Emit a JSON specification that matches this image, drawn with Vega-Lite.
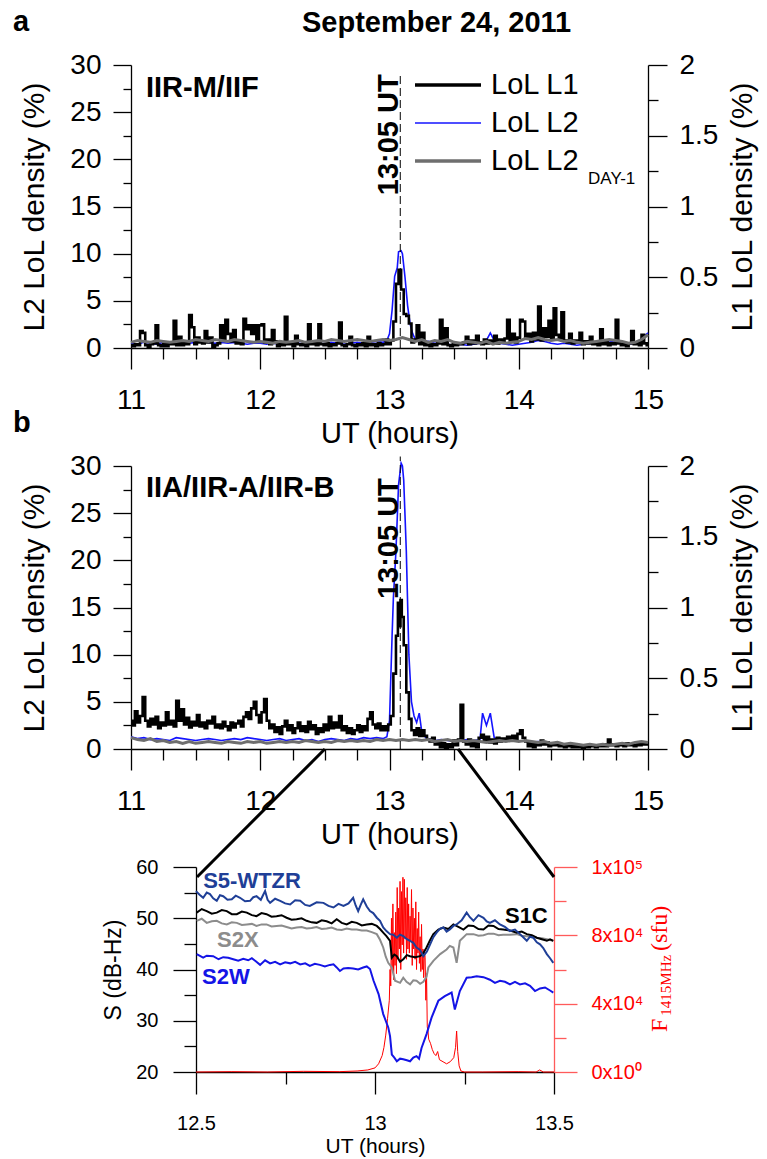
{
"$schema": "https://vega.github.io/schema/vega-lite/v6.json",
"autosize": {"type": "pad"},
"padding": {"left": 13, "top": 8, "right": 5, "bottom": 2},
"config": {
  "font": "Liberation Sans",
  "view": {"stroke": null},
  "axis": {"grid": false, "domainColor": "#000", "tickColor": "#000", "labelColor": "#000", "titleColor": "#000", "domainWidth": 1.3, "tickWidth": 1.3, "labelFont": "Liberation Sans", "titleFont": "Liberation Sans", "titleFontWeight": "normal", "labelFlush": false, "labelOverlap": false},
  "title": {"font": "Liberation Sans", "color": "#000"},
  "text": {"font": "Liberation Sans"}
},
"title": {"text": "September 24, 2011", "anchor": "start", "frame": "group", "dx": 171, "fontSize": 29, "fontWeight": "bold", "baseline": "alphabetic", "offset": -53},
"bounds": "flush",
"spacing": 118,
"resolve": {"scale": {"x": "independent", "y": "independent", "color": "independent"}},
"datasets": {
"aL1": [{"t":11,"v":0.02},{"t":11.02,"v":0.013},{"t":11.04,"v":0.027},{"t":11.06,"v":0.02},{"t":11.08,"v":0.12},{"t":11.1,"v":0.107},{"t":11.12,"v":0.02},{"t":11.14,"v":0.007},{"t":11.16,"v":0.027},{"t":11.18,"v":0.033},{"t":11.2,"v":0.16},{"t":11.22,"v":0.02},{"t":11.24,"v":0.013},{"t":11.26,"v":0.027},{"t":11.28,"v":0.013},{"t":11.3,"v":0.033},{"t":11.32,"v":0.027},{"t":11.34,"v":0.193},{"t":11.36,"v":0.02},{"t":11.38,"v":0.08},{"t":11.4,"v":0.02},{"t":11.42,"v":0.033},{"t":11.44,"v":0.027},{"t":11.46,"v":0.233},{"t":11.48,"v":0.147},{"t":11.5,"v":0.027},{"t":11.52,"v":0.073},{"t":11.54,"v":0.04},{"t":11.56,"v":0.033},{"t":11.58,"v":0.12},{"t":11.6,"v":0.04},{"t":11.62,"v":0.073},{"t":11.64,"v":0.007},{"t":11.66,"v":0.02},{"t":11.68,"v":0.033},{"t":11.7,"v":0.16},{"t":11.72,"v":0.053},{"t":11.74,"v":0.2},{"t":11.76,"v":0.1},{"t":11.78,"v":0.047},{"t":11.8,"v":0.127},{"t":11.82,"v":0.033},{"t":11.84,"v":0.047},{"t":11.86,"v":0.027},{"t":11.88,"v":0.207},{"t":11.9,"v":0.133},{"t":11.92,"v":0.16},{"t":11.94,"v":0.1},{"t":11.96,"v":0.16},{"t":11.98,"v":0.053},{"t":12,"v":0.16},{"t":12.02,"v":0.167},{"t":12.04,"v":0.04},{"t":12.06,"v":0.06},{"t":12.08,"v":0.027},{"t":12.1,"v":0.127},{"t":12.12,"v":0.047},{"t":12.14,"v":0.013},{"t":12.16,"v":0.027},{"t":12.18,"v":0.02},{"t":12.2,"v":0.22},{"t":12.22,"v":0.027},{"t":12.24,"v":0.033},{"t":12.26,"v":0.013},{"t":12.28,"v":0.087},{"t":12.3,"v":0.027},{"t":12.32,"v":0.02},{"t":12.34,"v":0.033},{"t":12.36,"v":0.013},{"t":12.38,"v":0.167},{"t":12.4,"v":0.027},{"t":12.42,"v":0.04},{"t":12.44,"v":0.02},{"t":12.46,"v":0.167},{"t":12.48,"v":0.027},{"t":12.5,"v":0.02},{"t":12.52,"v":0.033},{"t":12.54,"v":0.013},{"t":12.56,"v":0.027},{"t":12.58,"v":0.02},{"t":12.6,"v":0.033},{"t":12.62,"v":0.18},{"t":12.64,"v":0.02},{"t":12.66,"v":0.013},{"t":12.68,"v":0.027},{"t":12.7,"v":0.08},{"t":12.72,"v":0.02},{"t":12.74,"v":0.013},{"t":12.76,"v":0.027},{"t":12.78,"v":0.02},{"t":12.8,"v":0.033},{"t":12.82,"v":0.013},{"t":12.84,"v":0.08},{"t":12.86,"v":0.02},{"t":12.88,"v":0.027},{"t":12.9,"v":0.013},{"t":12.92,"v":0.033},{"t":12.94,"v":0.02},{"t":12.96,"v":0.027},{"t":12.98,"v":0.06},{"t":13,"v":0.027},{"t":13.02,"v":0.053},{"t":13.04,"v":0.187},{"t":13.06,"v":0.453},{"t":13.08,"v":0.553},{"t":13.1,"v":0.413},{"t":13.12,"v":0.24},{"t":13.14,"v":0.227},{"t":13.16,"v":0.173},{"t":13.18,"v":0.04},{"t":13.2,"v":0.06},{"t":13.22,"v":0.16},{"t":13.24,"v":0.027},{"t":13.26,"v":0.107},{"t":13.28,"v":0.02},{"t":13.3,"v":0.033},{"t":13.32,"v":0.013},{"t":13.34,"v":0.027},{"t":13.36,"v":0.02},{"t":13.38,"v":0.033},{"t":13.4,"v":0.2},{"t":13.42,"v":0.027},{"t":13.44,"v":0.14},{"t":13.46,"v":0.02},{"t":13.48,"v":0.013},{"t":13.5,"v":0.027},{"t":13.52,"v":0.02},{"t":13.54,"v":0.033},{"t":13.56,"v":0.027},{"t":13.58,"v":0.04},{"t":13.6,"v":0.08},{"t":13.62,"v":0.027},{"t":13.64,"v":0.053},{"t":13.66,"v":0.033},{"t":13.68,"v":0.087},{"t":13.7,"v":0.04},{"t":13.72,"v":0.027},{"t":13.74,"v":0.06},{"t":13.76,"v":0.033},{"t":13.78,"v":0.053},{"t":13.8,"v":0.04},{"t":13.82,"v":0.087},{"t":13.84,"v":0.033},{"t":13.86,"v":0.06},{"t":13.88,"v":0.047},{"t":13.9,"v":0.067},{"t":13.92,"v":0.2},{"t":13.94,"v":0.053},{"t":13.96,"v":0.1},{"t":13.98,"v":0.04},{"t":14,"v":0.073},{"t":14.02,"v":0.2},{"t":14.04,"v":0.187},{"t":14.06,"v":0.067},{"t":14.08,"v":0.1},{"t":14.1,"v":0.047},{"t":14.12,"v":0.107},{"t":14.14,"v":0.06},{"t":14.16,"v":0.293},{"t":14.18,"v":0.053},{"t":14.2,"v":0.14},{"t":14.22,"v":0.08},{"t":14.24,"v":0.193},{"t":14.26,"v":0.06},{"t":14.28,"v":0.28},{"t":14.3,"v":0.093},{"t":14.32,"v":0.067},{"t":14.34,"v":0.253},{"t":14.36,"v":0.053},{"t":14.38,"v":0.04},{"t":14.4,"v":0.1},{"t":14.42,"v":0.033},{"t":14.44,"v":0.053},{"t":14.46,"v":0.04},{"t":14.48,"v":0.107},{"t":14.5,"v":0.027},{"t":14.52,"v":0.047},{"t":14.54,"v":0.033},{"t":14.56,"v":0.08},{"t":14.58,"v":0.027},{"t":14.6,"v":0.033},{"t":14.62,"v":0.02},{"t":14.64,"v":0.133},{"t":14.66,"v":0.027},{"t":14.68,"v":0.04},{"t":14.7,"v":0.02},{"t":14.72,"v":0.033},{"t":14.74,"v":0.027},{"t":14.76,"v":0.2},{"t":14.78,"v":0.033},{"t":14.8,"v":0.02},{"t":14.82,"v":0.027},{"t":14.84,"v":0.013},{"t":14.86,"v":0.033},{"t":14.88,"v":0.12},{"t":14.9,"v":0.027},{"t":14.92,"v":0.04},{"t":14.94,"v":0.02},{"t":14.96,"v":0.093},{"t":14.98,"v":0.033},{"t":15,"v":0.02}],
"aL2": [{"t":11,"v":0.5},{"t":11.05,"v":0.4},{"t":11.1,"v":0.6},{"t":11.15,"v":0.5},{"t":11.2,"v":0.4},{"t":11.25,"v":0.6},{"t":11.3,"v":0.5},{"t":11.35,"v":0.5},{"t":11.4,"v":0.6},{"t":11.45,"v":0.5},{"t":11.5,"v":0.6},{"t":11.55,"v":0.7},{"t":11.6,"v":0.6},{"t":11.65,"v":0.5},{"t":11.7,"v":0.6},{"t":11.75,"v":0.5},{"t":11.8,"v":0.6},{"t":11.85,"v":0.5},{"t":11.9,"v":0.4},{"t":11.95,"v":0.5},{"t":12,"v":0.5},{"t":12.05,"v":0.4},{"t":12.1,"v":0.5},{"t":12.15,"v":0.4},{"t":12.2,"v":0.5},{"t":12.25,"v":0.6},{"t":12.3,"v":0.5},{"t":12.35,"v":0.4},{"t":12.4,"v":0.5},{"t":12.45,"v":0.4},{"t":12.5,"v":0.5},{"t":12.55,"v":0.6},{"t":12.6,"v":0.5},{"t":12.65,"v":0.4},{"t":12.7,"v":0.5},{"t":12.75,"v":0.6},{"t":12.8,"v":0.5},{"t":12.85,"v":0.6},{"t":12.9,"v":0.7},{"t":12.95,"v":0.6},{"t":12.98,"v":0.8},{"t":13,"v":1.5},{"t":13.02,"v":4},{"t":13.04,"v":7.6},{"t":13.06,"v":8.5},{"t":13.07,"v":10.2},{"t":13.09,"v":10.3},{"t":13.1,"v":10},{"t":13.12,"v":7.5},{"t":13.14,"v":4.5},{"t":13.16,"v":2.5},{"t":13.18,"v":1.5},{"t":13.2,"v":0.9},{"t":13.25,"v":0.6},{"t":13.3,"v":0.7},{"t":13.35,"v":0.5},{"t":13.4,"v":0.6},{"t":13.45,"v":0.4},{"t":13.5,"v":0.3},{"t":13.55,"v":0.4},{"t":13.6,"v":0.3},{"t":13.65,"v":0.4},{"t":13.7,"v":0.5},{"t":13.75,"v":0.8},{"t":13.78,"v":1.6},{"t":13.81,"v":0.8},{"t":13.85,"v":0.5},{"t":13.9,"v":0.4},{"t":13.95,"v":0.3},{"t":14,"v":0.4},{"t":14.05,"v":0.5},{"t":14.1,"v":0.6},{"t":14.15,"v":0.8},{"t":14.2,"v":0.7},{"t":14.25,"v":0.5},{"t":14.3,"v":0.4},{"t":14.35,"v":0.5},{"t":14.4,"v":0.4},{"t":14.45,"v":0.3},{"t":14.5,"v":0.4},{"t":14.55,"v":0.5},{"t":14.6,"v":0.4},{"t":14.65,"v":0.5},{"t":14.7,"v":0.6},{"t":14.75,"v":0.8},{"t":14.8,"v":0.6},{"t":14.85,"v":0.4},{"t":14.9,"v":0.5},{"t":14.95,"v":1},{"t":15,"v":1.6}],
"aD1": [{"t":11,"v":0.6},{"t":11.05,"v":0.8},{"t":11.1,"v":0.7},{"t":11.15,"v":0.6},{"t":11.2,"v":0.8},{"t":11.25,"v":0.7},{"t":11.3,"v":0.6},{"t":11.35,"v":0.7},{"t":11.4,"v":0.8},{"t":11.45,"v":0.7},{"t":11.5,"v":0.9},{"t":11.55,"v":0.8},{"t":11.6,"v":0.7},{"t":11.65,"v":0.9},{"t":11.7,"v":0.8},{"t":11.75,"v":0.7},{"t":11.8,"v":0.9},{"t":11.85,"v":0.8},{"t":11.9,"v":0.7},{"t":11.95,"v":0.6},{"t":12,"v":0.7},{"t":12.05,"v":0.6},{"t":12.1,"v":0.5},{"t":12.15,"v":0.7},{"t":12.2,"v":0.6},{"t":12.25,"v":0.7},{"t":12.3,"v":0.8},{"t":12.35,"v":0.6},{"t":12.4,"v":0.7},{"t":12.45,"v":0.8},{"t":12.5,"v":0.7},{"t":12.55,"v":0.9},{"t":12.6,"v":0.8},{"t":12.65,"v":0.7},{"t":12.7,"v":0.8},{"t":12.75,"v":0.9},{"t":12.8,"v":0.8},{"t":12.85,"v":0.7},{"t":12.9,"v":0.8},{"t":12.95,"v":0.9},{"t":13,"v":0.8},{"t":13.05,"v":0.9},{"t":13.1,"v":1.1},{"t":13.15,"v":0.9},{"t":13.2,"v":0.7},{"t":13.25,"v":0.9},{"t":13.3,"v":0.6},{"t":13.35,"v":0.8},{"t":13.4,"v":0.7},{"t":13.45,"v":0.9},{"t":13.5,"v":0.6},{"t":13.55,"v":0.5},{"t":13.6,"v":0.7},{"t":13.65,"v":0.6},{"t":13.7,"v":0.5},{"t":13.75,"v":0.7},{"t":13.8,"v":0.4},{"t":13.85,"v":0.6},{"t":13.9,"v":0.5},{"t":13.95,"v":0.6},{"t":14,"v":0.7},{"t":14.05,"v":1},{"t":14.1,"v":0.9},{"t":14.15,"v":1.1},{"t":14.2,"v":0.9},{"t":14.25,"v":0.8},{"t":14.3,"v":0.9},{"t":14.35,"v":0.7},{"t":14.4,"v":0.8},{"t":14.45,"v":0.6},{"t":14.5,"v":0.5},{"t":14.55,"v":0.6},{"t":14.6,"v":0.7},{"t":14.65,"v":0.8},{"t":14.7,"v":0.9},{"t":14.75,"v":0.8},{"t":14.8,"v":0.7},{"t":14.85,"v":0.5},{"t":14.9,"v":0.6},{"t":14.95,"v":0.9},{"t":15,"v":1.4}],
"bL1": [{"t":11,"v":0.2},{"t":11.02,"v":0.167},{"t":11.04,"v":0.267},{"t":11.06,"v":0.187},{"t":11.08,"v":0.233},{"t":11.1,"v":0.367},{"t":11.12,"v":0.2},{"t":11.14,"v":0.16},{"t":11.16,"v":0.213},{"t":11.18,"v":0.173},{"t":11.2,"v":0.227},{"t":11.22,"v":0.147},{"t":11.24,"v":0.187},{"t":11.26,"v":0.167},{"t":11.28,"v":0.26},{"t":11.3,"v":0.173},{"t":11.32,"v":0.2},{"t":11.34,"v":0.16},{"t":11.36,"v":0.34},{"t":11.38,"v":0.2},{"t":11.4,"v":0.28},{"t":11.42,"v":0.173},{"t":11.44,"v":0.22},{"t":11.46,"v":0.153},{"t":11.48,"v":0.193},{"t":11.5,"v":0.167},{"t":11.52,"v":0.24},{"t":11.54,"v":0.16},{"t":11.56,"v":0.187},{"t":11.58,"v":0.147},{"t":11.6,"v":0.2},{"t":11.62,"v":0.18},{"t":11.64,"v":0.227},{"t":11.66,"v":0.153},{"t":11.68,"v":0.173},{"t":11.7,"v":0.147},{"t":11.72,"v":0.193},{"t":11.74,"v":0.16},{"t":11.76,"v":0.133},{"t":11.78,"v":0.187},{"t":11.8,"v":0.153},{"t":11.82,"v":0.18},{"t":11.84,"v":0.2},{"t":11.86,"v":0.16},{"t":11.88,"v":0.227},{"t":11.9,"v":0.26},{"t":11.92,"v":0.213},{"t":11.94,"v":0.287},{"t":11.96,"v":0.333},{"t":11.98,"v":0.24},{"t":12,"v":0.187},{"t":12.02,"v":0.26},{"t":12.04,"v":0.353},{"t":12.06,"v":0.2},{"t":12.08,"v":0.147},{"t":12.1,"v":0.173},{"t":12.12,"v":0.12},{"t":12.14,"v":0.153},{"t":12.16,"v":0.107},{"t":12.18,"v":0.16},{"t":12.2,"v":0.2},{"t":12.22,"v":0.133},{"t":12.24,"v":0.167},{"t":12.26,"v":0.113},{"t":12.28,"v":0.147},{"t":12.3,"v":0.187},{"t":12.32,"v":0.127},{"t":12.34,"v":0.16},{"t":12.36,"v":0.12},{"t":12.38,"v":0.193},{"t":12.4,"v":0.14},{"t":12.42,"v":0.167},{"t":12.44,"v":0.107},{"t":12.46,"v":0.147},{"t":12.48,"v":0.12},{"t":12.5,"v":0.173},{"t":12.52,"v":0.133},{"t":12.54,"v":0.227},{"t":12.56,"v":0.147},{"t":12.58,"v":0.187},{"t":12.6,"v":0.153},{"t":12.62,"v":0.233},{"t":12.64,"v":0.133},{"t":12.66,"v":0.16},{"t":12.68,"v":0.113},{"t":12.7,"v":0.147},{"t":12.72,"v":0.107},{"t":12.74,"v":0.133},{"t":12.76,"v":0.167},{"t":12.78,"v":0.12},{"t":12.8,"v":0.16},{"t":12.82,"v":0.133},{"t":12.84,"v":0.213},{"t":12.86,"v":0.26},{"t":12.88,"v":0.173},{"t":12.9,"v":0.147},{"t":12.92,"v":0.18},{"t":12.94,"v":0.133},{"t":12.96,"v":0.16},{"t":12.98,"v":0.133},{"t":13,"v":0.173},{"t":13.02,"v":0.233},{"t":13.04,"v":0.533},{"t":13.06,"v":0.8},{"t":13.07,"v":1.033},{"t":13.08,"v":0.867},{"t":13.09,"v":1.053},{"t":13.1,"v":0.933},{"t":13.12,"v":0.733},{"t":13.14,"v":0.4},{"t":13.16,"v":0.213},{"t":13.18,"v":0.133},{"t":13.2,"v":0.1},{"t":13.22,"v":0.147},{"t":13.24,"v":0.093},{"t":13.26,"v":0.133},{"t":13.28,"v":0.093},{"t":13.3,"v":0.067},{"t":13.32,"v":0.053},{"t":13.34,"v":0.08},{"t":13.36,"v":0.033},{"t":13.38,"v":0.053},{"t":13.4,"v":0.013},{"t":13.42,"v":0.04},{"t":13.44,"v":0.007},{"t":13.46,"v":0.033},{"t":13.48,"v":0.013},{"t":13.5,"v":0.06},{"t":13.52,"v":0.027},{"t":13.54,"v":0.067},{"t":13.56,"v":0.313},{"t":13.58,"v":0.053},{"t":13.6,"v":0.033},{"t":13.62,"v":0.067},{"t":13.64,"v":0.02},{"t":13.66,"v":0.04},{"t":13.68,"v":0.013},{"t":13.7,"v":0.08},{"t":13.72,"v":0.1},{"t":13.74,"v":0.053},{"t":13.76,"v":0.087},{"t":13.78,"v":0.047},{"t":13.8,"v":0.067},{"t":13.82,"v":0.04},{"t":13.84,"v":0.08},{"t":13.86,"v":0.053},{"t":13.88,"v":0.073},{"t":13.9,"v":0.06},{"t":13.92,"v":0.087},{"t":13.94,"v":0.067},{"t":13.96,"v":0.093},{"t":13.98,"v":0.073},{"t":14,"v":0.107},{"t":14.02,"v":0.133},{"t":14.04,"v":0.08},{"t":14.06,"v":0.053},{"t":14.08,"v":0.02},{"t":14.1,"v":0.04},{"t":14.12,"v":0.013},{"t":14.14,"v":0.047},{"t":14.16,"v":0.027},{"t":14.18,"v":0.06},{"t":14.2,"v":0.033},{"t":14.22,"v":0.047},{"t":14.24,"v":0.02},{"t":14.26,"v":0.04},{"t":14.28,"v":0.027},{"t":14.3,"v":0.033},{"t":14.32,"v":0.02},{"t":14.34,"v":0.027},{"t":14.36,"v":0.013},{"t":14.38,"v":0.033},{"t":14.4,"v":0.02},{"t":14.42,"v":0.013},{"t":14.44,"v":0.027},{"t":14.46,"v":0.013},{"t":14.48,"v":0.02},{"t":14.5,"v":0.007},{"t":14.52,"v":0.02},{"t":14.54,"v":0.013},{"t":14.56,"v":0.027},{"t":14.58,"v":0.02},{"t":14.6,"v":0.013},{"t":14.62,"v":0.027},{"t":14.64,"v":0.02},{"t":14.66,"v":0.033},{"t":14.68,"v":0.02},{"t":14.7,"v":0.067},{"t":14.72,"v":0.027},{"t":14.74,"v":0.033},{"t":14.76,"v":0.02},{"t":14.78,"v":0.027},{"t":14.8,"v":0.033},{"t":14.82,"v":0.02},{"t":14.84,"v":0.04},{"t":14.86,"v":0.027},{"t":14.88,"v":0.033},{"t":14.9,"v":0.02},{"t":14.92,"v":0.04},{"t":14.94,"v":0.027},{"t":14.96,"v":0.033},{"t":14.98,"v":0.04},{"t":15,"v":0.033}],
"bL2": [{"t":11,"v":1.3},{"t":11.05,"v":1.1},{"t":11.1,"v":1.2},{"t":11.15,"v":1},{"t":11.2,"v":1.1},{"t":11.25,"v":1},{"t":11.3,"v":0.9},{"t":11.35,"v":1.2},{"t":11.4,"v":1.1},{"t":11.45,"v":1},{"t":11.5,"v":0.9},{"t":11.55,"v":1},{"t":11.6,"v":1.1},{"t":11.65,"v":1},{"t":11.7,"v":0.9},{"t":11.75,"v":1},{"t":11.8,"v":1.1},{"t":11.85,"v":1},{"t":11.9,"v":1.2},{"t":11.95,"v":1.1},{"t":12,"v":1},{"t":12.05,"v":0.9},{"t":12.1,"v":1},{"t":12.15,"v":1.1},{"t":12.2,"v":0.9},{"t":12.25,"v":1},{"t":12.3,"v":1.1},{"t":12.35,"v":0.9},{"t":12.4,"v":1},{"t":12.45,"v":0.8},{"t":12.5,"v":1},{"t":12.55,"v":1.1},{"t":12.6,"v":1},{"t":12.65,"v":0.9},{"t":12.7,"v":1.1},{"t":12.75,"v":1},{"t":12.8,"v":1.2},{"t":12.85,"v":1.1},{"t":12.9,"v":1.2},{"t":12.95,"v":1.1},{"t":12.98,"v":1.3},{"t":13,"v":3},{"t":13.02,"v":12},{"t":13.03,"v":16},{"t":13.05,"v":21},{"t":13.07,"v":28},{"t":13.09,"v":30.3},{"t":13.1,"v":30},{"t":13.11,"v":28.5},{"t":13.13,"v":21},{"t":13.15,"v":10},{"t":13.17,"v":5},{"t":13.19,"v":3.5},{"t":13.21,"v":2.8},{"t":13.23,"v":3.8},{"t":13.25,"v":1.8},{"t":13.28,"v":1.2},{"t":13.32,"v":1},{"t":13.36,"v":0.9},{"t":13.4,"v":1},{"t":13.45,"v":0.9},{"t":13.5,"v":0.8},{"t":13.55,"v":0.9},{"t":13.6,"v":1},{"t":13.65,"v":0.9},{"t":13.7,"v":1},{"t":13.72,"v":3.8},{"t":13.75,"v":2.5},{"t":13.78,"v":3.8},{"t":13.81,"v":1.2},{"t":13.85,"v":1},{"t":13.9,"v":0.9},{"t":13.95,"v":1},{"t":14,"v":0.8},{"t":14.05,"v":0.9},{"t":14.1,"v":0.7},{"t":14.15,"v":0.8},{"t":14.2,"v":0.6},{"t":14.25,"v":0.5},{"t":14.3,"v":0.6},{"t":14.35,"v":0.5},{"t":14.4,"v":0.4},{"t":14.45,"v":0.5},{"t":14.5,"v":0.4},{"t":14.55,"v":0.3},{"t":14.6,"v":0.4},{"t":14.65,"v":0.5},{"t":14.7,"v":0.4},{"t":14.75,"v":0.5},{"t":14.8,"v":0.4},{"t":14.85,"v":0.5},{"t":14.9,"v":0.4},{"t":14.95,"v":0.5},{"t":15,"v":0.6}],
"bD1": [{"t":11,"v":1.2},{"t":11.05,"v":1},{"t":11.1,"v":0.9},{"t":11.15,"v":1.1},{"t":11.2,"v":0.8},{"t":11.25,"v":0.9},{"t":11.3,"v":0.7},{"t":11.35,"v":0.8},{"t":11.4,"v":0.6},{"t":11.45,"v":0.8},{"t":11.5,"v":0.6},{"t":11.55,"v":0.7},{"t":11.6,"v":0.8},{"t":11.65,"v":0.7},{"t":11.7,"v":0.6},{"t":11.75,"v":0.8},{"t":11.8,"v":0.7},{"t":11.85,"v":0.6},{"t":11.9,"v":0.8},{"t":11.95,"v":0.7},{"t":12,"v":0.8},{"t":12.05,"v":0.6},{"t":12.1,"v":0.7},{"t":12.15,"v":0.8},{"t":12.2,"v":0.7},{"t":12.25,"v":0.8},{"t":12.3,"v":0.7},{"t":12.35,"v":0.9},{"t":12.4,"v":0.8},{"t":12.45,"v":0.7},{"t":12.5,"v":0.8},{"t":12.55,"v":0.7},{"t":12.6,"v":0.9},{"t":12.65,"v":0.8},{"t":12.7,"v":0.9},{"t":12.75,"v":0.8},{"t":12.8,"v":0.9},{"t":12.85,"v":0.8},{"t":12.9,"v":1},{"t":12.95,"v":0.9},{"t":13,"v":1},{"t":13.05,"v":0.9},{"t":13.1,"v":1},{"t":13.15,"v":0.9},{"t":13.2,"v":1},{"t":13.25,"v":0.9},{"t":13.3,"v":1},{"t":13.35,"v":0.8},{"t":13.4,"v":0.9},{"t":13.45,"v":1},{"t":13.5,"v":0.8},{"t":13.55,"v":0.9},{"t":13.6,"v":0.8},{"t":13.65,"v":0.9},{"t":13.7,"v":0.8},{"t":13.75,"v":0.7},{"t":13.8,"v":0.8},{"t":13.85,"v":0.9},{"t":13.9,"v":0.8},{"t":13.95,"v":0.9},{"t":14,"v":0.8},{"t":14.05,"v":0.9},{"t":14.1,"v":0.8},{"t":14.15,"v":0.7},{"t":14.2,"v":0.8},{"t":14.25,"v":0.6},{"t":14.3,"v":0.7},{"t":14.35,"v":0.5},{"t":14.4,"v":0.6},{"t":14.45,"v":0.5},{"t":14.5,"v":0.4},{"t":14.55,"v":0.5},{"t":14.6,"v":0.4},{"t":14.65,"v":0.5},{"t":14.7,"v":0.4},{"t":14.75,"v":0.5},{"t":14.8,"v":0.6},{"t":14.85,"v":0.5},{"t":14.9,"v":0.7},{"t":14.95,"v":0.8},{"t":15,"v":0.7}],
"cS5": [{"t":12.5,"v":55.3},{"t":12.51,"v":54.6},{"t":12.52,"v":54},{"t":12.53,"v":55},{"t":12.539,"v":54.7},{"t":12.548,"v":53.9},{"t":12.558,"v":53.4},{"t":12.567,"v":54.5},{"t":12.576,"v":54.3},{"t":12.588,"v":53.6},{"t":12.6,"v":53.7},{"t":12.611,"v":54.4},{"t":12.623,"v":54},{"t":12.637,"v":53.3},{"t":12.651,"v":53.4},{"t":12.66,"v":54.1},{"t":12.669,"v":54.3},{"t":12.681,"v":53.6},{"t":12.693,"v":55.3},{"t":12.7,"v":53.6},{"t":12.707,"v":53},{"t":12.721,"v":53.8},{"t":12.735,"v":53.4},{"t":12.749,"v":52.9},{"t":12.763,"v":52.7},{"t":12.777,"v":53.5},{"t":12.791,"v":53.4},{"t":12.805,"v":52.6},{"t":12.818,"v":52.4},{"t":12.837,"v":53.1},{"t":12.856,"v":53},{"t":12.87,"v":52.4},{"t":12.884,"v":52.1},{"t":12.898,"v":52.8},{"t":12.912,"v":52.4},{"t":12.926,"v":52.9},{"t":12.939,"v":54},{"t":12.946,"v":52.5},{"t":12.953,"v":51.4},{"t":12.96,"v":52.6},{"t":12.967,"v":53.7},{"t":12.977,"v":52.3},{"t":12.986,"v":51.4},{"t":12.995,"v":51},{"t":13.005,"v":50.1},{"t":13.014,"v":49.5},{"t":13.023,"v":48.2},{"t":13.032,"v":47.5},{"t":13.042,"v":46.9},{"t":13.051,"v":46.8},{"t":13.061,"v":46.2},{"t":13.07,"v":46.8},{"t":13.079,"v":46.5},{"t":13.089,"v":45.9},{"t":13.098,"v":45.6},{"t":13.107,"v":45.2},{"t":13.116,"v":44.3},{"t":13.126,"v":43.8},{"t":13.135,"v":42.6},{"t":13.145,"v":43.5},{"t":13.154,"v":44.9},{"t":13.163,"v":46.3},{"t":13.172,"v":47.2},{"t":13.182,"v":48},{"t":13.191,"v":48.2},{"t":13.2,"v":47.4},{"t":13.209,"v":47.8},{"t":13.219,"v":48.5},{"t":13.228,"v":48.8},{"t":13.242,"v":49.6},{"t":13.256,"v":51.1},{"t":13.265,"v":50.2},{"t":13.275,"v":49.5},{"t":13.289,"v":50.6},{"t":13.303,"v":50.1},{"t":13.312,"v":49.4},{"t":13.321,"v":49.1},{"t":13.335,"v":49.6},{"t":13.349,"v":48.8},{"t":13.363,"v":48.3},{"t":13.377,"v":47.5},{"t":13.391,"v":47.8},{"t":13.405,"v":46.9},{"t":13.414,"v":46.3},{"t":13.424,"v":45.6},{"t":13.433,"v":46.4},{"t":13.442,"v":46.2},{"t":13.452,"v":45.3},{"t":13.461,"v":44.9},{"t":13.47,"v":44.2},{"t":13.48,"v":43},{"t":13.489,"v":42.2},{"t":13.498,"v":41.3}],
"cS1C": [{"t":12.502,"v":51.1},{"t":12.516,"v":51.8},{"t":12.53,"v":51.4},{"t":12.544,"v":50.9},{"t":12.558,"v":51.1},{"t":12.572,"v":51.6},{"t":12.586,"v":51.4},{"t":12.6,"v":50.8},{"t":12.614,"v":50.8},{"t":12.628,"v":51.3},{"t":12.642,"v":51.1},{"t":12.656,"v":50.6},{"t":12.669,"v":50.4},{"t":12.683,"v":51},{"t":12.697,"v":50.8},{"t":12.711,"v":50.3},{"t":12.725,"v":50.4},{"t":12.739,"v":50.6},{"t":12.753,"v":50.1},{"t":12.767,"v":49.7},{"t":12.781,"v":49.8},{"t":12.795,"v":50},{"t":12.809,"v":49.5},{"t":12.823,"v":49.2},{"t":12.837,"v":49.1},{"t":12.851,"v":49.6},{"t":12.865,"v":49.4},{"t":12.879,"v":49},{"t":12.893,"v":49.8},{"t":12.907,"v":49.1},{"t":12.921,"v":48.8},{"t":12.935,"v":49.3},{"t":12.949,"v":49.1},{"t":12.963,"v":48.6},{"t":12.977,"v":48.8},{"t":12.991,"v":48.9},{"t":13.005,"v":48.5},{"t":13.014,"v":47.9},{"t":13.023,"v":47.2},{"t":13.032,"v":46.5},{"t":13.042,"v":45.6},{"t":13.047,"v":42.3},{"t":13.054,"v":42.9},{"t":13.061,"v":42.6},{"t":13.07,"v":41.5},{"t":13.079,"v":42},{"t":13.089,"v":42.8},{"t":13.098,"v":42.6},{"t":13.112,"v":42.4},{"t":13.126,"v":42.6},{"t":13.135,"v":43.2},{"t":13.144,"v":44.3},{"t":13.153,"v":45.6},{"t":13.163,"v":46.9},{"t":13.177,"v":47.8},{"t":13.191,"v":48.2},{"t":13.205,"v":47.9},{"t":13.219,"v":48.8},{"t":13.233,"v":48.3},{"t":13.247,"v":47.8},{"t":13.261,"v":48.6},{"t":13.275,"v":48.5},{"t":13.289,"v":47.9},{"t":13.303,"v":47.8},{"t":13.317,"v":48.6},{"t":13.331,"v":48.5},{"t":13.345,"v":47.9},{"t":13.358,"v":47.8},{"t":13.377,"v":47.6},{"t":13.396,"v":47.2},{"t":13.41,"v":47.4},{"t":13.424,"v":46.9},{"t":13.438,"v":46.7},{"t":13.452,"v":46.2},{"t":13.466,"v":45.9},{"t":13.48,"v":45.6},{"t":13.489,"v":45.9},{"t":13.498,"v":45.6}],
"cS2X": [{"t":12.502,"v":49.5},{"t":12.516,"v":49.9},{"t":12.53,"v":49.1},{"t":12.544,"v":49.4},{"t":12.558,"v":49.5},{"t":12.572,"v":49},{"t":12.586,"v":48.8},{"t":12.6,"v":49.2},{"t":12.614,"v":49.1},{"t":12.628,"v":48.7},{"t":12.642,"v":48.8},{"t":12.656,"v":48.9},{"t":12.669,"v":48.5},{"t":12.683,"v":48.8},{"t":12.697,"v":48.8},{"t":12.711,"v":48.4},{"t":12.725,"v":48.5},{"t":12.739,"v":48.6},{"t":12.753,"v":48.3},{"t":12.767,"v":48},{"t":12.781,"v":48.2},{"t":12.795,"v":48.3},{"t":12.809,"v":48},{"t":12.823,"v":48.1},{"t":12.837,"v":48.3},{"t":12.851,"v":47.9},{"t":12.865,"v":48},{"t":12.879,"v":48.2},{"t":12.893,"v":47.8},{"t":12.907,"v":47.7},{"t":12.921,"v":48},{"t":12.935,"v":47.8},{"t":12.949,"v":47.8},{"t":12.963,"v":47.6},{"t":12.977,"v":47.6},{"t":12.991,"v":47.3},{"t":13.005,"v":46.9},{"t":13.014,"v":45.8},{"t":13.023,"v":44.3},{"t":13.03,"v":42.5},{"t":13.037,"v":41.3},{"t":13.047,"v":40.4},{"t":13.056,"v":37.8},{"t":13.07,"v":37.4},{"t":13.079,"v":38.4},{"t":13.088,"v":37.6},{"t":13.098,"v":37.1},{"t":13.107,"v":37.9},{"t":13.116,"v":37.8},{"t":13.126,"v":37.2},{"t":13.135,"v":37.6},{"t":13.144,"v":38.6},{"t":13.149,"v":40.4},{"t":13.163,"v":41.7},{"t":13.182,"v":43},{"t":13.2,"v":43.9},{"t":13.209,"v":44.6},{"t":13.219,"v":44.3},{"t":13.228,"v":41.3},{"t":13.237,"v":45.6},{"t":13.256,"v":46.9},{"t":13.275,"v":46.9},{"t":13.289,"v":46.6},{"t":13.303,"v":46.7},{"t":13.317,"v":47},{"t":13.331,"v":47},{"t":13.345,"v":46.7},{"t":13.358,"v":46.8},{"t":13.377,"v":46.8},{"t":13.396,"v":46.9},{"t":13.41,"v":46.6},{"t":13.424,"v":46.5},{"t":13.438,"v":46.4},{"t":13.452,"v":46.2},{"t":13.466,"v":46.1},{"t":13.48,"v":45.9},{"t":13.498,"v":45.6}],
"cS2W": [{"t":12.502,"v":43},{"t":12.52,"v":42.3},{"t":12.53,"v":42.7},{"t":12.548,"v":42.6},{"t":12.563,"v":42},{"t":12.576,"v":42.4},{"t":12.59,"v":42.3},{"t":12.604,"v":42},{"t":12.618,"v":41.7},{"t":12.632,"v":42.1},{"t":12.646,"v":41.8},{"t":12.656,"v":42.2},{"t":12.667,"v":41.6},{"t":12.679,"v":40.9},{"t":12.693,"v":41.8},{"t":12.707,"v":41.2},{"t":12.721,"v":41.5},{"t":12.735,"v":41},{"t":12.749,"v":41.4},{"t":12.763,"v":41.2},{"t":12.777,"v":41.5},{"t":12.791,"v":41},{"t":12.805,"v":41.2},{"t":12.818,"v":40.7},{"t":12.832,"v":41.1},{"t":12.846,"v":40.9},{"t":12.86,"v":40.6},{"t":12.874,"v":40.9},{"t":12.884,"v":41},{"t":12.893,"v":40.4},{"t":12.902,"v":39.7},{"t":12.912,"v":40.2},{"t":12.925,"v":40.3},{"t":12.939,"v":40.2},{"t":12.953,"v":40},{"t":12.967,"v":40.4},{"t":12.977,"v":40.6},{"t":12.986,"v":40.1},{"t":12.996,"v":37.8},{"t":13.01,"v":35.2},{"t":13.023,"v":31.3},{"t":13.037,"v":28.7},{"t":13.042,"v":27},{"t":13.047,"v":23.4},{"t":13.054,"v":22.8},{"t":13.061,"v":22.1},{"t":13.07,"v":22.6},{"t":13.079,"v":22.5},{"t":13.089,"v":22.3},{"t":13.098,"v":22.1},{"t":13.107,"v":22.8},{"t":13.116,"v":23.1},{"t":13.123,"v":22.6},{"t":13.13,"v":24.7},{"t":13.144,"v":27.4},{"t":13.158,"v":30.6},{"t":13.177,"v":33.9},{"t":13.195,"v":34.8},{"t":13.214,"v":35.5},{"t":13.223,"v":32.2},{"t":13.237,"v":35.8},{"t":13.256,"v":38.4},{"t":13.27,"v":38.5},{"t":13.284,"v":38.7},{"t":13.303,"v":38.5},{"t":13.321,"v":38},{"t":13.335,"v":37.4},{"t":13.349,"v":37.8},{"t":13.363,"v":37.6},{"t":13.377,"v":37.1},{"t":13.391,"v":37.6},{"t":13.405,"v":37.1},{"t":13.419,"v":37.3},{"t":13.433,"v":36.8},{"t":13.447,"v":35.8},{"t":13.461,"v":36.3},{"t":13.475,"v":36.5},{"t":13.489,"v":35.9},{"t":13.498,"v":35.5}],
"cF": [{"t":12.5,"v":0},{"t":12.6,"v":200},{"t":12.7,"v":0},{"t":12.8,"v":400},{"t":12.9,"v":200},{"t":12.95,"v":600},{"t":12.98,"v":1200},{"t":13,"v":2400},{"t":13.01,"v":4800},{"t":13.02,"v":9600},{"t":13.025,"v":14400},{"t":13.03,"v":21600},{"t":13.035,"v":31200},{"t":13.04,"v":42000},{"t":13.042,"v":60000},{"t":13.044,"v":50400},{"t":13.046,"v":90000},{"t":13.048,"v":60000},{"t":13.05,"v":98400},{"t":13.052,"v":54000},{"t":13.054,"v":81600},{"t":13.056,"v":62400},{"t":13.058,"v":93600},{"t":13.06,"v":57600},{"t":13.062,"v":108000},{"t":13.064,"v":66000},{"t":13.066,"v":96000},{"t":13.068,"v":72000},{"t":13.07,"v":111600},{"t":13.072,"v":60000},{"t":13.074,"v":105600},{"t":13.076,"v":74400},{"t":13.078,"v":114000},{"t":13.08,"v":69600},{"t":13.082,"v":112800},{"t":13.084,"v":78000},{"t":13.086,"v":102000},{"t":13.088,"v":66000},{"t":13.09,"v":108000},{"t":13.092,"v":72000},{"t":13.094,"v":98400},{"t":13.096,"v":69600},{"t":13.098,"v":91200},{"t":13.1,"v":76800},{"t":13.102,"v":106800},{"t":13.104,"v":62400},{"t":13.106,"v":96000},{"t":13.108,"v":72000},{"t":13.11,"v":90000},{"t":13.112,"v":66000},{"t":13.114,"v":99600},{"t":13.116,"v":60000},{"t":13.118,"v":84000},{"t":13.12,"v":69600},{"t":13.122,"v":93600},{"t":13.124,"v":63600},{"t":13.126,"v":79200},{"t":13.128,"v":58800},{"t":13.13,"v":86400},{"t":13.132,"v":60000},{"t":13.134,"v":72000},{"t":13.136,"v":55200},{"t":13.138,"v":70800},{"t":13.14,"v":67200},{"t":13.142,"v":42000},{"t":13.144,"v":57600},{"t":13.146,"v":26400},{"t":13.148,"v":24000},{"t":13.15,"v":19200},{"t":13.155,"v":16800},{"t":13.16,"v":13200},{"t":13.165,"v":10800},{"t":13.17,"v":9600},{"t":13.175,"v":12000},{"t":13.18,"v":7200},{"t":13.19,"v":6000},{"t":13.2,"v":4800},{"t":13.21,"v":6000},{"t":13.22,"v":8400},{"t":13.225,"v":14400},{"t":13.228,"v":24000},{"t":13.231,"v":12000},{"t":13.235,"v":3600},{"t":13.24,"v":600},{"t":13.25,"v":0},{"t":13.3,"v":0},{"t":13.4,"v":200},{"t":13.45,"v":0},{"t":13.46,"v":1200},{"t":13.47,"v":0},{"t":13.5,"v":0}]
},
"vconcat": [
{
  "width": 517, "height": 283,
  "title": {"text": "a", "anchor": "start", "frame": "group", "dx": -118, "fontSize": 29, "fontWeight": "bold", "baseline": "alphabetic", "offset": -9},
  "resolve": {"scale": {"y": "independent"}, "axis": {"x": "independent", "y": "independent"}},
  "layer": [
    {"data": {"name": "aL2"}, "mark": {"type": "line", "strokeWidth": 1.6},
     "encoding": {
       "x": {"field": "t", "type": "quantitative", "scale": {"domain": [11, 15], "nice": false, "zero": false},
             "axis": {"orient": "bottom", "values": [11, 12, 13, 14, 15], "format": "d", "tickSize": 21, "labelFontSize": 28, "labelPadding": 17, "title": "UT (hours)", "titleFontSize": 29, "titlePadding": 5}},
       "y": {"field": "v", "type": "quantitative", "scale": {"domain": [0, 30], "nice": false},
             "axis": {"orient": "left", "values": [0, 5, 10, 15, 20, 25, 30], "tickSize": 18, "labelFontSize": 28, "labelPadding": 12, "title": "L2 LoL density (%)", "titleFontSize": 30, "titlePadding": 20}},
       "color": {"datum": "LoL L2", "scale": {"domain": ["LoL L1", "LoL L2", "LoL L2 DAY-1"], "range": ["#000000", "#1414ff", "#6e6e6e"]},
                 "legend": {"orient": "none", "legendX": 302.5, "legendY": 5.5, "title": null, "symbolType": "M-2,0H2", "symbolSize": 1089, "labelFontSize": 29, "labelColor": "#000", "labelOffset": 28.5, "rowPadding": 8, "labelLimit": 0,
                            "labelExpr": "datum.label == 'LoL L2 DAY-1' ? 'LoL L2' : datum.label",
                            "encode": {"symbols": {"update": {"strokeWidth": {"signal": "datum.value == 'LoL L2' ? 1.6 : 3.5"}}}}}}
     }},
    {"data": {"name": "aL1"}, "mark": {"type": "line", "strokeWidth": 2.6, "interpolate": "step"},
     "encoding": {
       "x": {"field": "t", "type": "quantitative", "axis": null},
       "y": {"field": "v", "type": "quantitative", "scale": {"domain": [0, 2], "nice": false},
             "axis": {"orient": "right", "values": [0, 0.5, 1, 1.5, 2], "format": "~g", "tickSize": 19, "labelFontSize": 28, "labelPadding": 12, "title": "L1 LoL density (%)", "titleFontSize": 30, "titleAngle": 270, "titleBaseline": "top", "titlePadding": 10}},
       "color": {"datum": "LoL L1"}
     }},
    {"data": {"name": "aD1"}, "mark": {"type": "line", "strokeWidth": 3},
     "encoding": {
       "x": {"field": "t", "type": "quantitative",
             "axis": {"orient": "bottom", "values": [11.25, 11.5, 11.75, 12.25, 12.5, 12.75, 13.25, 13.5, 13.75, 14.25, 14.5, 14.75], "tickSize": 11, "labels": false, "domain": false, "title": null}},
       "y": {"field": "v", "type": "quantitative", "scale": {"domain": [0, 30], "nice": false},
             "axis": {"orient": "left", "values": [2.5, 7.5, 12.5, 17.5, 22.5, 27.5], "tickSize": 8, "labels": false, "domain": false, "title": null}},
       "color": {"datum": "LoL L2 DAY-1"}
     }},
    {"data": {"values": [{"t": 13.0833, "y0": 0, "y1": 1.933}]}, "mark": {"type": "rule", "strokeDash": [8, 4], "strokeWidth": 1, "color": "#000"},
     "encoding": {
       "x": {"field": "t", "type": "quantitative", "axis": null},
       "y": {"field": "y0", "type": "quantitative", "scale": {"domain": [0, 2], "nice": false},
             "axis": {"orient": "right", "values": [0.25, 0.75, 1.25, 1.75], "tickSize": 10, "labels": false, "domain": false, "title": null}},
       "y2": {"field": "y1"}
     }},
    {"data": {"values": [{"t": 11.116, "v": 26.6, "txt": "IIR-M/IIF"}]}, "mark": {"type": "text", "fontSize": 29, "fontWeight": "bold", "align": "left", "baseline": "alphabetic", "color": "#000"},
     "encoding": {"x": {"field": "t", "type": "quantitative", "axis": null}, "y": {"field": "v", "type": "quantitative", "scale": {"domain": [0, 30], "nice": false}, "axis": null}, "text": {"field": "txt"}}},
    {"data": {"values": [{"t": 13.066, "v": 22.6, "txt": "13:05 UT"}]}, "mark": {"type": "text", "fontSize": 29, "fontWeight": "bold", "align": "center", "baseline": "alphabetic", "angle": 270, "color": "#000"},
     "encoding": {"x": {"field": "t", "type": "quantitative", "axis": null}, "y": {"field": "v", "type": "quantitative", "scale": {"domain": [0, 30], "nice": false}, "axis": null}, "text": {"field": "txt"}}},
    {"data": {"values": [{"t": 14.536, "v": 17.4, "txt": "DAY-1"}]}, "mark": {"type": "text", "fontSize": 17, "align": "left", "baseline": "alphabetic", "color": "#000"},
     "encoding": {"x": {"field": "t", "type": "quantitative", "axis": null}, "y": {"field": "v", "type": "quantitative", "scale": {"domain": [0, 30], "nice": false}, "axis": null}, "text": {"field": "txt"}}}
  ]
},
{
  "width": 517, "height": 283,
  "title": {"text": "b", "anchor": "start", "frame": "group", "dx": -118, "fontSize": 29, "fontWeight": "bold", "baseline": "alphabetic", "offset": -9},
  "resolve": {"scale": {"y": "independent"}, "axis": {"x": "independent", "y": "independent"}},
  "layer": [
    {"data": {"name": "bL2"}, "mark": {"type": "line", "strokeWidth": 1.6, "color": "#1414ff"},
     "encoding": {
       "x": {"field": "t", "type": "quantitative", "scale": {"domain": [11, 15], "nice": false, "zero": false},
             "axis": {"orient": "bottom", "values": [11, 12, 13, 14, 15], "format": "d", "tickSize": 21, "labelFontSize": 28, "labelPadding": 17, "title": "UT (hours)", "titleFontSize": 29, "titlePadding": 5}},
       "y": {"field": "v", "type": "quantitative", "scale": {"domain": [0, 30], "nice": false},
             "axis": {"orient": "left", "values": [0, 5, 10, 15, 20, 25, 30], "tickSize": 18, "labelFontSize": 28, "labelPadding": 12, "title": "L2 LoL density (%)", "titleFontSize": 30, "titlePadding": 20}}
     }},
    {"data": {"name": "bL1"}, "mark": {"type": "line", "strokeWidth": 2.6, "color": "#000", "interpolate": "step"},
     "encoding": {
       "x": {"field": "t", "type": "quantitative", "axis": null},
       "y": {"field": "v", "type": "quantitative", "scale": {"domain": [0, 2], "nice": false},
             "axis": {"orient": "right", "values": [0, 0.5, 1, 1.5, 2], "format": "~g", "tickSize": 19, "labelFontSize": 28, "labelPadding": 12, "title": "L1 LoL density (%)", "titleFontSize": 30, "titleAngle": 270, "titleBaseline": "top", "titlePadding": 10}}
     }},
    {"data": {"name": "bD1"}, "mark": {"type": "line", "strokeWidth": 3, "color": "#6e6e6e"},
     "encoding": {
       "x": {"field": "t", "type": "quantitative",
             "axis": {"orient": "bottom", "values": [11.25, 11.5, 11.75, 12.25, 12.5, 12.75, 13.25, 13.5, 13.75, 14.25, 14.5, 14.75], "tickSize": 11, "labels": false, "domain": false, "title": null}},
       "y": {"field": "v", "type": "quantitative", "scale": {"domain": [0, 30], "nice": false},
             "axis": {"orient": "left", "values": [2.5, 7.5, 12.5, 17.5, 22.5, 27.5], "tickSize": 8, "labels": false, "domain": false, "title": null}}
     }},
    {"data": {"values": [{"t": 13.0833, "y0": 0, "y1": 2.067}]}, "mark": {"type": "rule", "strokeDash": [8, 4], "strokeWidth": 1, "color": "#000"},
     "encoding": {
       "x": {"field": "t", "type": "quantitative", "axis": null},
       "y": {"field": "y0", "type": "quantitative", "scale": {"domain": [0, 2], "nice": false},
             "axis": {"orient": "right", "values": [0.25, 0.75, 1.25, 1.75], "tickSize": 10, "labels": false, "domain": false, "title": null}},
       "y2": {"field": "y1"}
     }},
    {"data": {"values": [{"t": 11.116, "v": 26.7, "txt": "IIA/IIR-A/IIR-B"}]}, "mark": {"type": "text", "fontSize": 29, "fontWeight": "bold", "align": "left", "baseline": "alphabetic", "color": "#000"},
     "encoding": {"x": {"field": "t", "type": "quantitative", "axis": null}, "y": {"field": "v", "type": "quantitative", "scale": {"domain": [0, 30], "nice": false}, "axis": null}, "text": {"field": "txt"}}},
    {"data": {"values": [{"t": 13.066, "v": 22.3, "txt": "13:05 UT"}]}, "mark": {"type": "text", "fontSize": 29, "fontWeight": "bold", "align": "center", "baseline": "alphabetic", "angle": 270, "color": "#000"},
     "encoding": {"x": {"field": "t", "type": "quantitative", "axis": null}, "y": {"field": "v", "type": "quantitative", "scale": {"domain": [0, 30], "nice": false}, "axis": null}, "text": {"field": "txt"}}}
  ]
},
{
  "bounds": "flush",
  "spacing": 20,
  "hconcat": [
    {"width": 45, "height": 205, "data": {"values": [{}]}, "mark": {"type": "point", "opacity": 0}},
    {
      "width": 358, "height": 205,
      "resolve": {"scale": {"y": "independent"}, "axis": {"x": "independent", "y": "independent"}},
      "layer": [
        {"data": {"name": "cF"}, "mark": {"type": "line", "strokeWidth": 1, "color": "#ff0000"},
         "encoding": {
           "x": {"field": "t", "type": "quantitative", "scale": {"domain": [12.5, 13.5], "nice": false, "zero": false}, "axis": null},
           "y": {"field": "v", "type": "quantitative", "scale": {"domain": [0, 120000], "nice": false},
                 "axis": {"orient": "right", "values": [0, 40000, 80000, 120000], "labelExpr": "datum.value == 0 ? '0x10⁰' : datum.value == 40000 ? '4x10⁴' : datum.value == 80000 ? '8x10⁴' : '1x10⁵'", "tickSize": 23, "labelFontSize": 20, "labelPadding": 14, "labelColor": "#ff0000", "domainColor": "#ff5a5a", "tickColor": "#ff5a5a", "title": null}}
         }},
        {"data": {"name": "cS2W"}, "mark": {"type": "line", "strokeWidth": 2, "color": "#1414e6"},
         "encoding": {
           "x": {"field": "t", "type": "quantitative",
                 "axis": {"orient": "bottom", "values": [12.5, 13, 13.5], "format": "~g", "tickSize": 22, "labelFontSize": 20, "labelPadding": 19, "title": "UT (hours)", "titleFontSize": 21, "titlePadding": 2}},
           "y": {"field": "v", "type": "quantitative", "scale": {"domain": [20, 60], "nice": false, "zero": false},
                 "axis": {"orient": "left", "values": [20, 30, 40, 50, 60], "tickSize": 23, "labelFontSize": 20, "labelPadding": 15, "title": "S (dB-Hz)", "titleFontSize": 23, "titlePadding": 10}}
         }},
        {"data": {"name": "cS2X"}, "mark": {"type": "line", "strokeWidth": 2, "color": "#8c8c8c"},
         "encoding": {
           "x": {"field": "t", "type": "quantitative",
                 "axis": {"orient": "bottom", "values": [12.75, 13.25], "tickSize": 12, "labels": false, "domain": false, "title": null}},
           "y": {"field": "v", "type": "quantitative", "scale": {"domain": [20, 60], "nice": false, "zero": false},
                 "axis": {"orient": "left", "values": [25, 35, 45, 55], "tickSize": 12, "labels": false, "domain": false, "title": null}}
         }},
        {"data": {"name": "cS1C"}, "mark": {"type": "line", "strokeWidth": 2, "color": "#000"},
         "encoding": {
           "x": {"field": "t", "type": "quantitative", "axis": null},
           "y": {"field": "v", "type": "quantitative", "scale": {"domain": [20, 60], "nice": false, "zero": false}, "axis": null}
         }},
        {"data": {"name": "cS5"}, "mark": {"type": "line", "strokeWidth": 2, "color": "#1f3f97"},
         "encoding": {
           "x": {"field": "t", "type": "quantitative", "axis": null},
           "y": {"field": "v", "type": "quantitative", "scale": {"domain": [20, 60], "nice": false, "zero": false}, "axis": null}
         }},
        {"data": {"values": [{"f": 60000}]}, "mark": {"type": "rule", "opacity": 0},
         "encoding": {
           "y": {"field": "f", "type": "quantitative", "scale": {"domain": [0, 120000], "nice": false},
                 "axis": {"orient": "right", "values": [20000, 60000, 100000], "tickSize": 12, "labels": false, "domain": false, "title": null, "tickColor": "#ff5a5a"}}
         }},
        {"data": {"values": [{"t1": 12.503, "s1": 58.05, "t2": 12.86, "s2": 83.02}, {"t1": 13.5, "s1": 58.05, "t2": 13.232, "s2": 83.02}]}, "mark": {"type": "rule", "strokeWidth": 3, "color": "#000"},
         "encoding": {
           "x": {"field": "t1", "type": "quantitative", "axis": null}, "x2": {"field": "t2"},
           "y": {"field": "s1", "type": "quantitative", "scale": {"domain": [20, 60], "nice": false, "zero": false}, "axis": null}, "y2": {"field": "s2"}
         }},
        {"data": {"values": [{"t": 12.52, "s": 55.9, "lab": "S5-WTZR"}, {"t": 13.363, "s": 49.1, "lab": "S1C"}, {"t": 12.559, "s": 44.4, "lab": "S2X"}, {"t": 12.517, "s": 37.2, "lab": "S2W"}]},
         "mark": {"type": "text", "fontSize": 22, "fontWeight": "bold", "align": "left", "baseline": "alphabetic"},
         "encoding": {
           "x": {"field": "t", "type": "quantitative", "axis": null},
           "y": {"field": "s", "type": "quantitative", "scale": {"domain": [20, 60], "nice": false, "zero": false}, "axis": null},
           "text": {"field": "lab"},
           "color": {"field": "lab", "type": "nominal", "scale": {"domain": ["S5-WTZR", "S1C", "S2X", "S2W"], "range": ["#1f3f97", "#000000", "#8c8c8c", "#1414e6"]}, "legend": null}
         }},
        {"data": {"values": [{"t": 13.816, "s": 27.8, "txt": "F"}, {"t": 13.816, "s": 43.6, "txt": "(sfu)"}]},
         "mark": {"type": "text", "font": "Liberation Serif", "fontSize": 24, "angle": 270, "align": "left", "baseline": "alphabetic", "color": "#ff0000"},
         "encoding": {
           "x": {"field": "t", "type": "quantitative", "axis": null},
           "y": {"field": "s", "type": "quantitative", "scale": {"domain": [20, 60], "nice": false, "zero": false}, "axis": null},
           "text": {"field": "txt"}
         }},
        {"data": {"values": [{"t": 13.827, "s": 31.0, "txt": "1415MHz"}]},
         "mark": {"type": "text", "font": "Liberation Serif", "fontSize": 15, "angle": 270, "align": "left", "baseline": "alphabetic", "color": "#ff0000"},
         "encoding": {
           "x": {"field": "t", "type": "quantitative", "axis": null},
           "y": {"field": "s", "type": "quantitative", "scale": {"domain": [20, 60], "nice": false, "zero": false}, "axis": null},
           "text": {"field": "txt"}
         }}
      ]
    }
  ]
}
]
}
